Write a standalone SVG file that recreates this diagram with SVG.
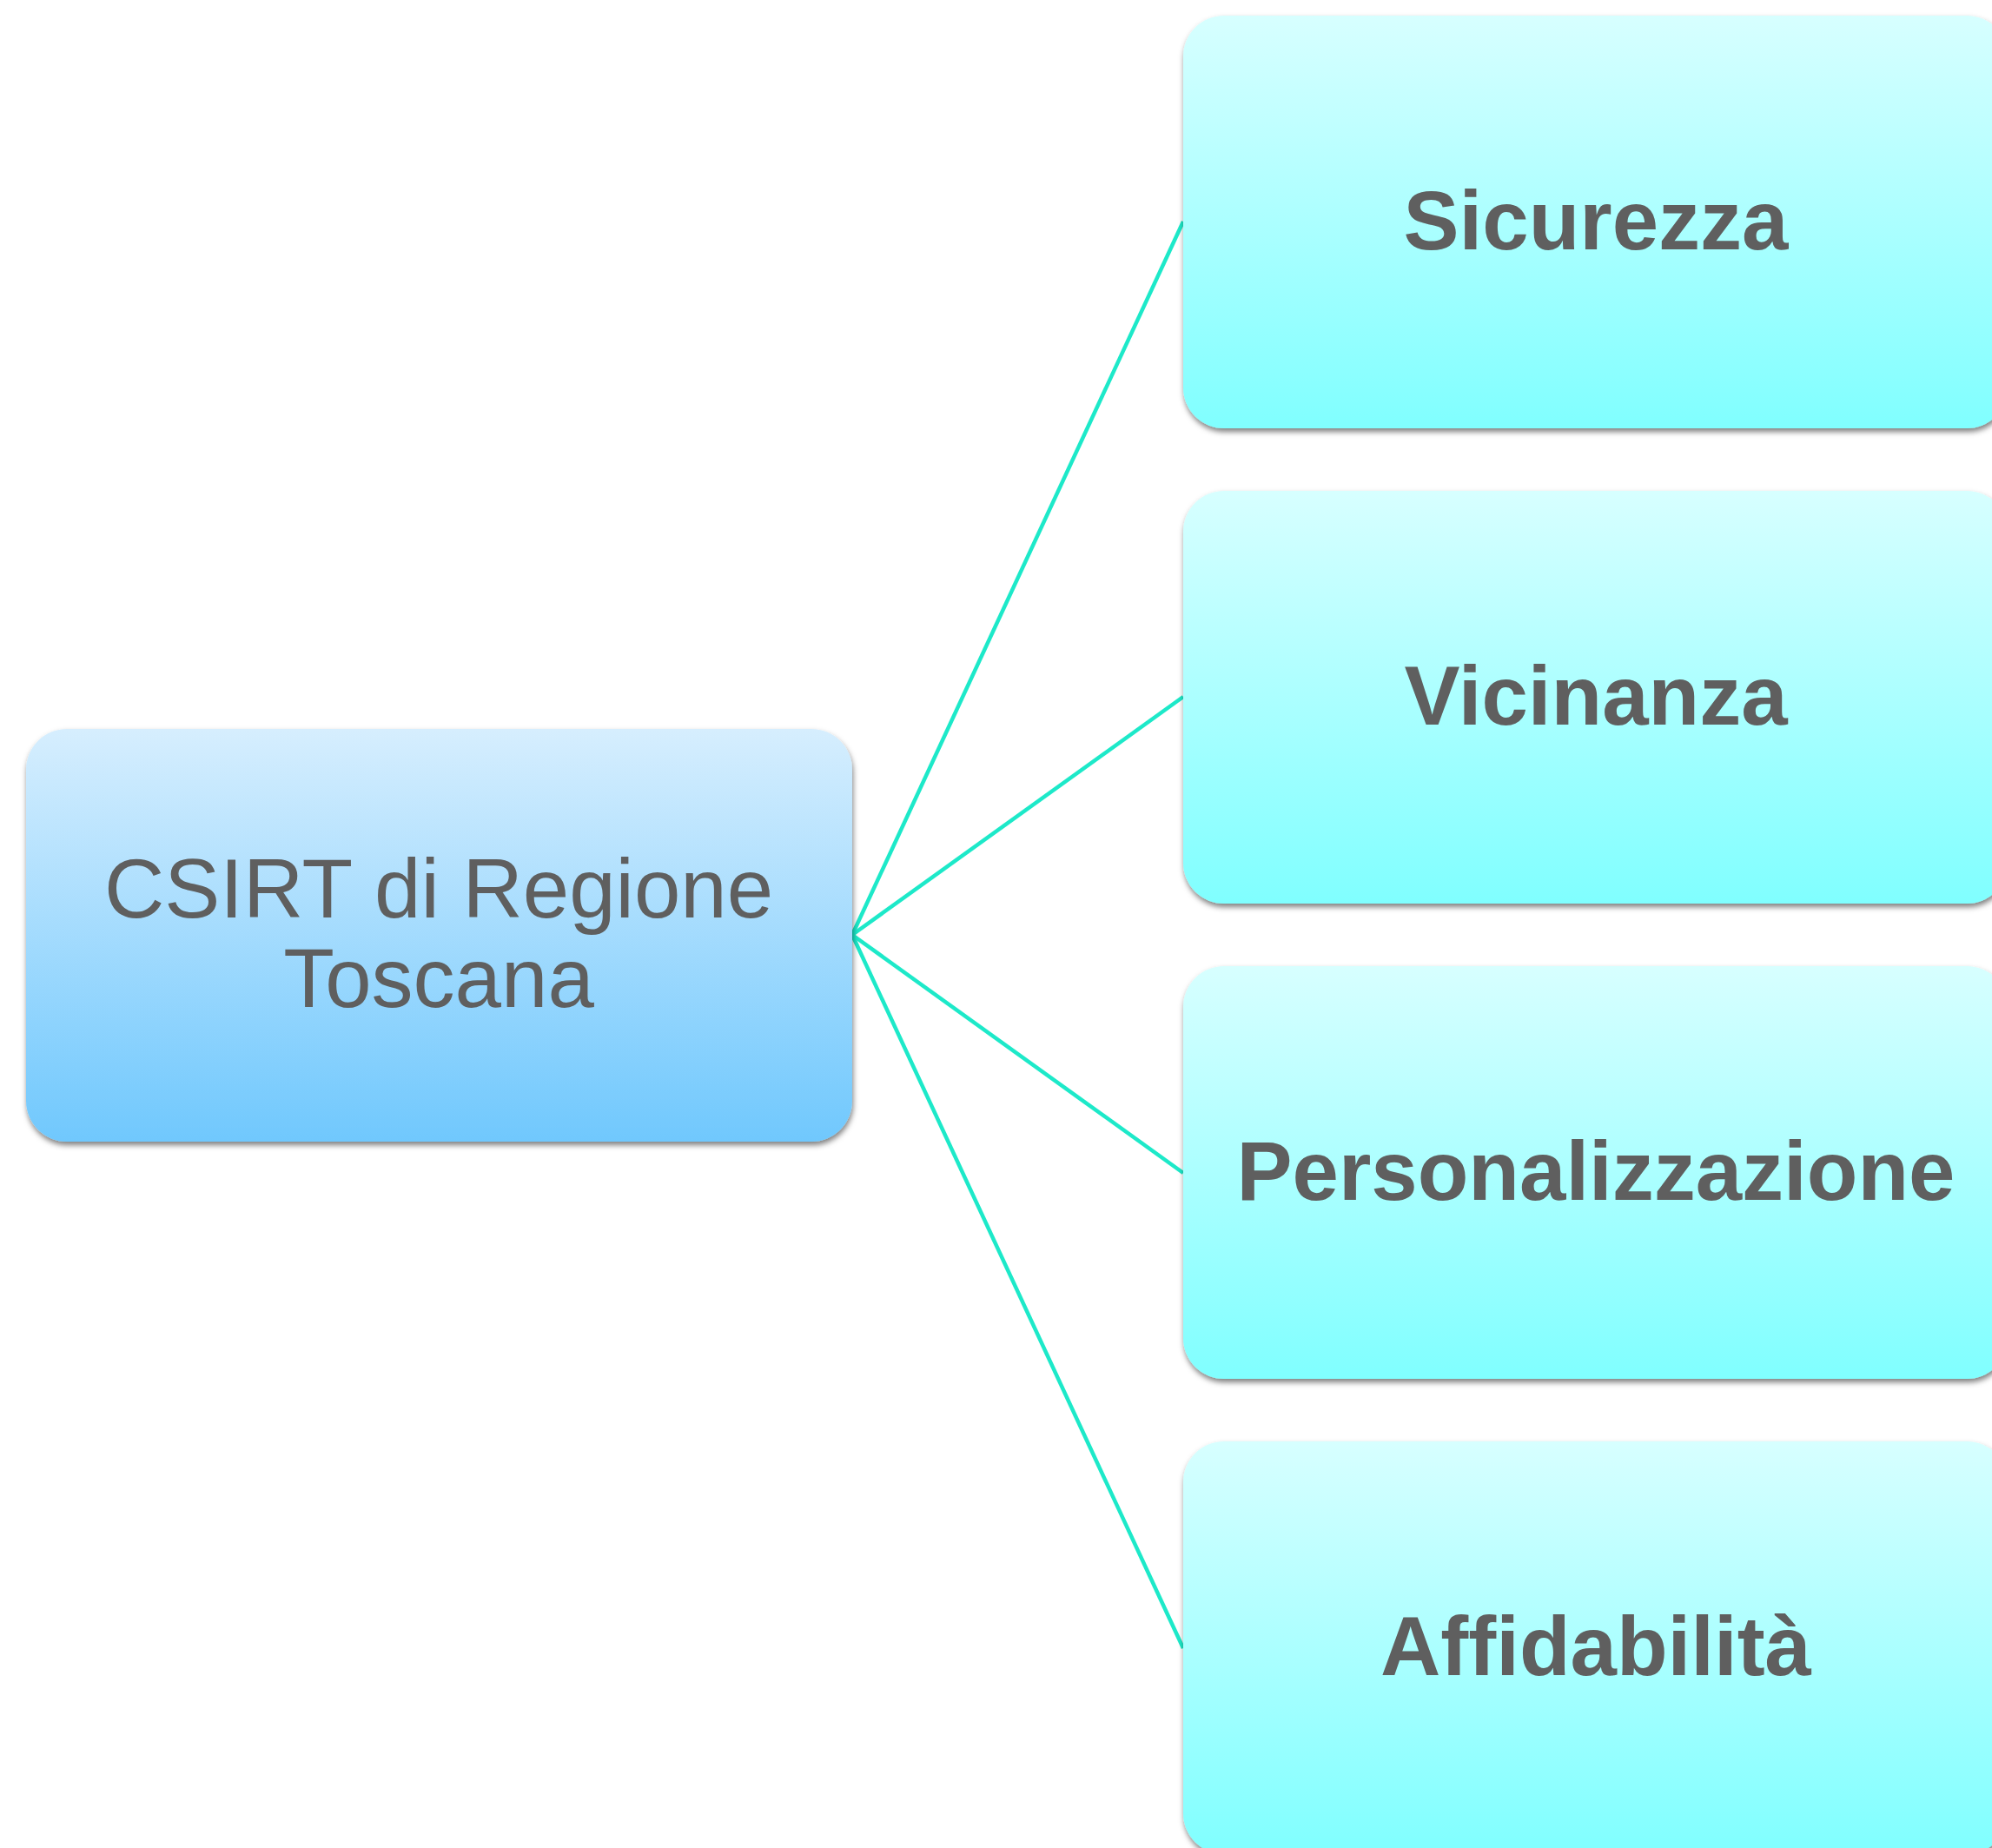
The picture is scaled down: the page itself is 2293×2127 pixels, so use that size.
<svg xmlns="http://www.w3.org/2000/svg" width="2293" height="2127" viewBox="0 0 2293 2127">
  <style>
    .conn { stroke: #1de9c9; stroke-width: 4.5; fill: none; }
    .lbl { font-family: "Liberation Sans", Arial, sans-serif; fill: #5f5f5f; text-anchor: middle; }
    .main { font-size: 96px; }
    .sub { font-size: 96px; font-weight: bold; }
  </style>
  <defs>
    <linearGradient id="gMain" x1="0" y1="0" x2="0" y2="1">
      <stop offset="0" stop-color="#d6eefe"/>
      <stop offset="1" stop-color="#70c8fd"/>
    </linearGradient>
    <linearGradient id="gSub" x1="0" y1="0" x2="0" y2="1">
      <stop offset="0" stop-color="#d7ffff"/>
      <stop offset="1" stop-color="#80ffff"/>
    </linearGradient>
    <filter id="shadow" x="-5%" y="-5%" width="110%" height="115%">
      <feDropShadow dx="1" dy="4" stdDeviation="3" flood-color="#000" flood-opacity="0.5"/>
    </filter>
  </defs>
  <rect width="2293" height="2127" fill="#ffffff"/>
  <g id="connectors">
    <line class="conn" x1="981" y1="1076" x2="1362" y2="255"/>
    <line class="conn" x1="981" y1="1076" x2="1362" y2="802"/>
    <line class="conn" x1="981" y1="1076" x2="1362" y2="1350"/>
    <line class="conn" x1="981" y1="1076" x2="1362" y2="1897"/>
  </g>
  <g id="node-csirt">
    <rect x="30" y="839" width="951" height="475" rx="47" ry="47" fill="url(#gMain)" filter="url(#shadow)"/>
    <text class="lbl main" x="505" y="1056">CSIRT di Regione</text>
    <text class="lbl main" x="505" y="1159">Toscana</text>
  </g>
  <g id="node-sicurezza">
    <rect x="1362" y="18" width="949" height="475" rx="47" ry="47" fill="url(#gSub)" filter="url(#shadow)"/>
    <text class="lbl sub" x="1837" y="287">Sicurezza</text>
  </g>
  <g id="node-vicinanza">
    <rect x="1362" y="565" width="949" height="475" rx="47" ry="47" fill="url(#gSub)" filter="url(#shadow)"/>
    <text class="lbl sub" x="1837" y="834">Vicinanza</text>
  </g>
  <g id="node-personalizzazione">
    <rect x="1362" y="1112" width="949" height="475" rx="47" ry="47" fill="url(#gSub)" filter="url(#shadow)"/>
    <text class="lbl sub" x="1837" y="1381">Personalizzazione</text>
  </g>
  <g id="node-affidabilita">
    <rect x="1362" y="1659" width="949" height="475" rx="47" ry="47" fill="url(#gSub)" filter="url(#shadow)"/>
    <text class="lbl sub" x="1837" y="1928">Affidabilità</text>
  </g>
</svg>
